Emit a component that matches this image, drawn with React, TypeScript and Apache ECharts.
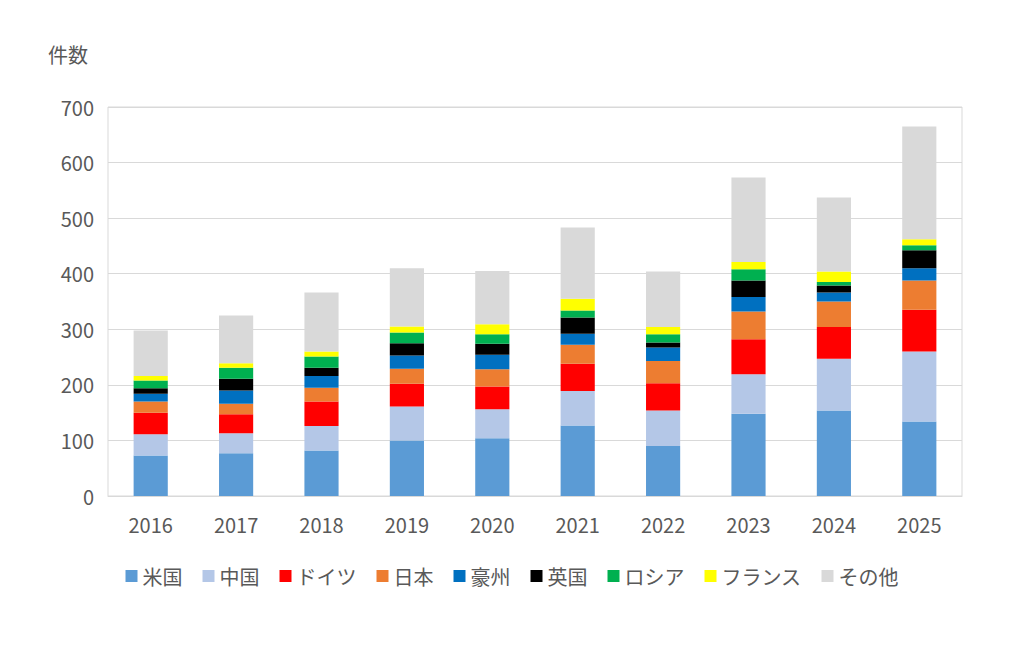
import { useEffect, useRef } from 'react';
import * as echarts from 'echarts';

const years = ['2016', '2017', '2018', '2019', '2020', '2021', '2022', '2023', '2024', '2025'];
const seriesNames = ['米国', '中国', 'ドイツ', '日本', '豪州', '英国', 'ロシア', 'フランス', 'その他'];
const colors = ['#5b9bd5', '#b4c7e7', '#ff0000', '#ed7d31', '#0070c0', '#000000', '#00b050', '#ffff00', '#d9d9d9'];

const us = [73, 77, 82, 100, 104, 127, 90, 148, 154, 134];
const china = [38, 36, 44, 61, 52, 62, 64, 71, 93, 126];
const germany = [39, 34, 44, 41, 41, 49, 49, 63, 57, 75];
const japan = [20, 19, 25, 27, 31, 34, 40, 50, 46, 53];
const australia = [14, 24, 21, 24, 26, 20, 24, 26, 16, 22];
const uk = [10, 21, 15, 22, 20, 29, 9, 30, 13, 32];
const russia = [14, 20, 20, 19, 17, 13, 15, 20, 6, 9];
const france = [8, 8, 9, 11, 18, 21, 13, 13, 19, 11];
const others = [82, 86, 106, 105, 96, 128, 100, 152, 133, 203];

const allData = [us, china, germany, japan, australia, uk, russia, france, others];

export default function App() {
  const chartRef = useRef<HTMLDivElement>(null);

  useEffect(() => {
    if (!chartRef.current) return;
    const chart = echarts.init(chartRef.current, null, { renderer: 'svg' });
    const font = '"Noto Sans CJK JP", "Noto Sans", sans-serif';
    chart.setOption({
      animation: false,
      textStyle: { fontFamily: font },
      graphic: [
        { type: 'text', left: 40, top: 36, style: { text: '件数', fontSize: 20, fill: '#595959', fontFamily: font } },
      ],
      grid: { left: 100, right: 54, top: 99, bottom: 141, show: true, borderColor: '#d9d9d9', borderWidth: 1 },
      legend: {
        bottom: 46,
        left: 'center',
        itemWidth: 12,
        itemHeight: 12,
        itemGap: 20,
        icon: 'rect',
        textStyle: { fontSize: 20, color: '#595959', fontFamily: font },
        data: seriesNames,
      },
      xAxis: {
        type: 'category',
        data: years,
        axisLine: { lineStyle: { color: '#d9d9d9' } },
        axisTick: { show: false },
        axisLabel: { fontSize: 20, color: '#595959', margin: 18 },
      },
      yAxis: {
        type: 'value',
        min: 0,
        max: 700,
        interval: 100,
        axisLabel: { fontSize: 20, color: '#595959', margin: 14 },
        splitLine: { lineStyle: { color: '#d9d9d9' } },
      },
      series: seriesNames.map((name, i) => ({
        name,
        type: 'bar',
        stack: 'total',
        barWidth: '40%',
        itemStyle: { color: colors[i] },
        data: allData[i],
      })),
    });
    return () => chart.dispose();
  }, []);

  return <div ref={chartRef} style={{ width: '1008px', height: '629px' }} />;
}
